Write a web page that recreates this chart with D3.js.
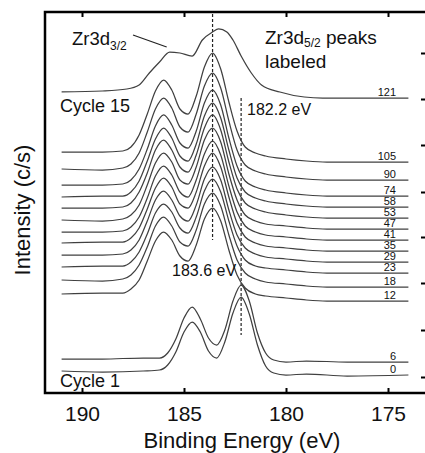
<!DOCTYPE html>
<html>
<head>
<meta charset="utf-8">
<script src="https://cdn.jsdelivr.net/npm/d3@7"></script>
<style>
  body { margin: 0; background: #fff; }
  svg text { font-family: "Liberation Sans", Arial, sans-serif; fill: #111; }
</style>
</head>
<body>
<svg id="chart" width="425" height="453"></svg>
<script>
// binding energy grids (eV)
var eStacked = [191, 189, 188, 187.6, 187.2, 186.8, 186.4, 186.0, 185.6, 185.2, 184.8, 184.4, 184.0, 183.6, 183.2, 182.8, 182.4, 182.0, 181.5, 181.0, 180.0, 179.0, 178.0, 174.0];
var eEarly = [191, 189, 187, 186.2, 185.8, 185.4, 185.0, 184.6, 184.2, 183.8, 183.4, 183.0, 182.6, 182.2, 181.8, 181.4, 181.0, 180.6, 180.0, 179.0, 177.0, 174.0];
var eLate = [191, 189, 187.8, 187.2, 186.7, 186.2, 185.7, 185.2, 184.6, 184.1, 183.6, 183.3, 182.9, 182.6, 182.2, 181.7, 181.2, 180.3, 179.1, 178.2, 174.0];

// intensities (arb. units, offset for stacking)
var c0 = [22, 21, 22, 23, 28, 41, 61, 71, 61, 42, 35, 51, 80, 96, 79, 48, 27, 20, 18, 19, 17, 18];
var c6 = [34, 34, 35, 35, 40, 54, 75, 86, 74, 55, 48, 63, 92, 108, 92, 60, 40, 33, 31, 32, 31, 31];
var c12 = [99, 100, 100, 104, 113, 132, 152, 161, 153, 137, 132, 148, 174, 185, 172, 143, 118, 105, 99, 97, 95, 93, 92, 92];
var c18 = [113, 112, 114, 118, 128, 146, 167, 176, 167, 151, 147, 163, 189, 200, 187, 158, 133, 120, 114, 111, 109, 107, 106, 106];
var c23 = [126, 127, 127, 131, 141, 159, 180, 189, 181, 165, 160, 176, 202, 214, 201, 172, 147, 133, 127, 125, 123, 121, 120, 120];
var c29 = [138, 138, 139, 143, 153, 172, 193, 202, 193, 177, 172, 188, 214, 226, 213, 183, 158, 145, 139, 136, 134, 132, 131, 131];
var c35 = [150, 151, 151, 155, 165, 184, 205, 215, 206, 189, 185, 201, 227, 240, 226, 196, 170, 156, 150, 147, 145, 143, 142, 142];
var c41 = [161, 161, 162, 166, 176, 195, 217, 227, 218, 201, 196, 213, 239, 252, 238, 207, 181, 167, 161, 158, 156, 154, 153, 153];
var c47 = [173, 172, 174, 178, 188, 208, 230, 240, 231, 213, 209, 226, 253, 265, 251, 219, 193, 178, 172, 169, 167, 165, 164, 164];
var c53 = [185, 185, 186, 190, 201, 220, 243, 253, 243, 226, 221, 238, 265, 278, 263, 231, 204, 190, 184, 181, 178, 176, 175, 175];
var c58 = [196, 197, 197, 201, 212, 232, 254, 265, 255, 237, 232, 249, 277, 290, 275, 243, 215, 201, 195, 192, 189, 187, 186, 186];
var c74 = [208, 208, 209, 213, 224, 244, 267, 278, 268, 250, 245, 262, 290, 303, 288, 255, 227, 212, 206, 203, 200, 198, 197, 197];
var c90 = [224, 223, 225, 229, 240, 261, 284, 295, 285, 266, 261, 279, 307, 320, 305, 272, 243, 228, 222, 219, 216, 214, 213, 213];
var c105 = [241, 241, 242, 246, 258, 279, 302, 313, 303, 284, 279, 297, 326, 340, 324, 291, 262, 246, 240, 237, 234, 232, 231, 231];
var c121 = [301, 302, 304, 308, 320, 331, 341, 340, 337, 353, 361, 364, 361, 353, 337, 320, 308, 301, 296, 295, 295];

var xTicks = [190, 185, 180, 175];
var yTicks = [16, 63, 110, 156, 201, 248, 294, 340];

var series = [
  { cycle: "0", e: eEarly, v: c0 },
  { cycle: "6", e: eEarly, v: c6 },
  { cycle: "12", e: eStacked, v: c12 },
  { cycle: "18", e: eStacked, v: c18 },
  { cycle: "23", e: eStacked, v: c23 },
  { cycle: "29", e: eStacked, v: c29 },
  { cycle: "35", e: eStacked, v: c35 },
  { cycle: "41", e: eStacked, v: c41 },
  { cycle: "47", e: eStacked, v: c47 },
  { cycle: "53", e: eStacked, v: c53 },
  { cycle: "58", e: eStacked, v: c58 },
  { cycle: "74", e: eStacked, v: c74 },
  { cycle: "90", e: eStacked, v: c90 },
  { cycle: "105", e: eStacked, v: c105 },
  { cycle: "121", e: eLate, v: c121 }
];

var svg = d3.select("#chart");

var x = d3.scaleLinear().domain([190, 175]).range([82, 388]);
var y = d3.scaleLinear().domain([0, 381]).range([393, 12]);

//dashed peak markers
var markers = [
  { energy: 183.6, from: 379, to: 153 },
  { energy: 182.2, from: 295, to: 58 }
];
svg.selectAll(".marker")
  .data(markers)
  .enter()
  .append("line")
  .attr("class", "marker")
  .attr("x1", function (d) { return x(d.energy); })
  .attr("x2", function (d) { return x(d.energy); })
  .attr("y1", function (d) { return y(d.from); })
  .attr("y2", function (d) { return y(d.to); })
  .attr("stroke", "#222")
  .attr("stroke-width", 1.2)
  .attr("stroke-dasharray", "3,2");

//spectra
var line = d3.line()
  .x(function (d) { return x(d[0]); })
  .y(function (d) { return y(d[1]); })
  .curve(d3.curveMonotoneX);

svg.selectAll(".spectrum")
  .data(series)
  .enter()
  .append("path")
  .attr("class", "spectrum")
  .attr("d", function (s) { return line(d3.zip(s.e, s.v)); })
  .attr("fill", "none")
  .attr("stroke", "#404040")
  .attr("stroke-width", 1.25);

svg.selectAll(".cycle-label")
  .data(series)
  .enter()
  .append("text")
  .attr("class", "cycle-label")
  .attr("x", 396)
  .attr("y", function (s) { return y(s.v[s.v.length - 1]) - 2; })
  .attr("text-anchor", "end")
  .attr("font-size", 11)
  .text(function (s) { return s.cycle; });

//frame + axes
svg.append("rect")
  .attr("x", 45).attr("y", 12)
  .attr("width", 382).attr("height", 381)
  .attr("fill", "none")
  .attr("stroke", "#000")
  .attr("stroke-width", 2.5);

var bottom = svg.append("g")
  .attr("transform", "translate(0,393)")
  .call(d3.axisBottom(x).tickValues(xTicks).tickSizeInner(-5).tickSizeOuter(0).tickPadding(13));
bottom.selectAll("text").attr("font-size", 21);

var top = svg.append("g")
  .attr("transform", "translate(0,12)")
  .call(d3.axisTop(x).tickValues(xTicks).tickSizeInner(-5).tickSizeOuter(0).tickFormat(""));

var right = svg.append("g")
  .attr("transform", "translate(426,0)")
  .call(d3.axisRight(y).tickValues(yTicks).tickSizeInner(-5).tickSizeOuter(0).tickFormat(""));

svg.selectAll(".domain").remove();
svg.selectAll(".tick line").attr("stroke", "#000").attr("stroke-width", 2);
svg.selectAll(".tick text").attr("fill", "#111").attr("font-family", "Liberation Sans, Arial, sans-serif");

svg.append("text")
  .attr("x", 242).attr("y", 448)
  .attr("text-anchor", "middle")
  .attr("font-size", 22)
  .text("Binding Energy (eV)");

svg.append("text")
  .attr("transform", "translate(30,210) rotate(-90)")
  .attr("text-anchor", "middle")
  .attr("font-size", 22)
  .text("Intensity (c/s)");

//annotations
var t1 = svg.append("text").attr("x", 72).attr("y", 45).attr("font-size", 18.5);
t1.append("tspan").text("Zr3d");
t1.append("tspan").attr("font-size", 12).attr("dy", 5).text("3/2");

svg.append("line")
  .attr("x1", x(187.5)).attr("y1", y(358))
  .attr("x2", x(185.85)).attr("y2", y(346))
  .attr("stroke", "#222").attr("stroke-width", 1.2);

var t2 = svg.append("text").attr("x", 265).attr("y", 44).attr("font-size", 19);
t2.append("tspan").text("Zr3d");
t2.append("tspan").attr("font-size", 12).attr("dy", 3).text("5/2");
t2.append("tspan").attr("dy", -3).text(" peaks");
svg.append("text").attr("x", 265).attr("y", 68).attr("font-size", 19).text("labeled");

svg.append("text").attr("x", 60).attr("y", 112).attr("font-size", 18).text("Cycle 15");
svg.append("text").attr("x", 60).attr("y", 387).attr("font-size", 18).text("Cycle 1");

svg.append("text").attr("x", 247).attr("y", 115).attr("font-size", 16).attr("fill", "#333").text("182.2 eV");
svg.append("text").attr("x", 172).attr("y", 276).attr("font-size", 16).attr("fill", "#333").text("183.6 eV");
</script>
</body>
</html>
